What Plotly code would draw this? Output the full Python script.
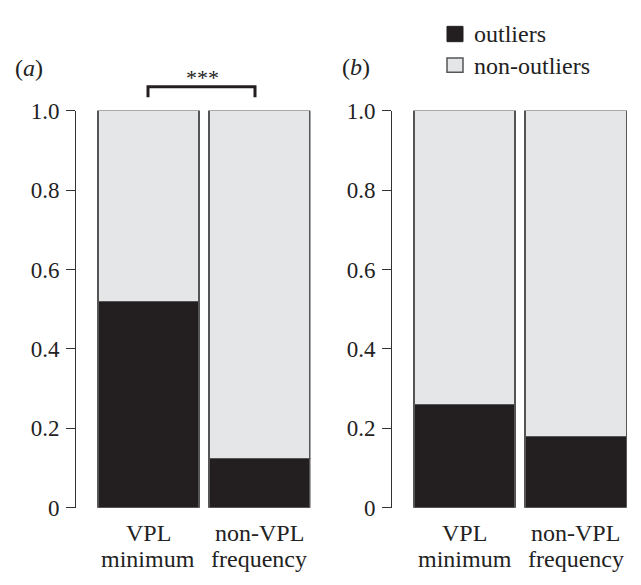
import plotly.graph_objects as go

cat_line1 = ["VPL", "non-VPL"]
cat_line2 = ["minimum", "frequency"]
outliers_a = [0.52, 0.124]
outliers_b = [0.26, 0.18]
non_outliers_a = [1 - v for v in outliers_a]
non_outliers_b = [1 - v for v in outliers_b]
y_ticks = [0, 0.2, 0.4, 0.6, 0.8, 1.0]
y_tick_text = ["0", "0.2", "0.4", "0.6", "0.8", "1.0"]
panel_labels = ["(<i>a</i>)", "(<i>b</i>)"]
legend_names = ["outliers", "non-outliers"]
signif = "***"

BLACK = "#231f20"
GREY = "#e5e6e8"
EDGE = "#555555"
FONT = "Liberation Serif, Times New Roman, serif"
FS = 24
TFS = 23
TXT = "#222222"

W, H = 641, 585
def px(x):
    return x / W
def py(y):
    return (H - y) / H

fig = go.Figure()
xs = [0, 1]
for i, (out, non) in enumerate([(outliers_a, non_outliers_a), (outliers_b, non_outliers_b)]):
    xa = "x" if i == 0 else "x2"
    ya = "y" if i == 0 else "y2"
    fig.add_trace(go.Bar(x=xs, y=out, width=0.91, marker=dict(color=BLACK, line=dict(color=EDGE, width=1.5)),
                         name=legend_names[0], showlegend=False, xaxis=xa, yaxis=ya))
    fig.add_trace(go.Bar(x=xs, y=non, width=0.91, marker=dict(color=GREY, line=dict(color=EDGE, width=1.5)),
                         name=legend_names[1], showlegend=False, xaxis=xa, yaxis=ya))

ydom = [py(518), py(103)]
common_y = dict(range=[0, 1], tickvals=y_ticks, ticktext=y_tick_text, showline=True, linecolor="#333",
                linewidth=1, ticks="outside", ticklen=9, tickcolor="#333", showgrid=False, zeroline=False,
                tickfont=dict(family=FONT, size=TFS, color=TXT), domain=ydom, fixedrange=True,
                ticklabelstandoff=2)
common_x = dict(range=[-0.653, 1.46], tickvals=xs, showticklabels=False, showline=False, ticks="",
                showgrid=False, zeroline=False, fixedrange=True)

fig.update_layout(
    barmode="stack",
    width=W, height=H,
    margin=dict(l=0, r=0, t=0, b=0),
    paper_bgcolor="white", plot_bgcolor="white",
    xaxis=dict(domain=[px(76), px(310.5)], anchor="y", **common_x),
    yaxis=dict(anchor="x", **common_y),
    xaxis2=dict(domain=[px(392), px(627)], anchor="y2", **common_x),
    yaxis2=dict(anchor="x2", **common_y),
    showlegend=False,
)

def ann(text, x, y, xref="paper", xanchor="center", size=FS):
    return dict(text=text, x=x, y=y, xref=xref, yref="paper", showarrow=False,
                xanchor=xanchor, yanchor="middle", font=dict(family=FONT, size=size, color=TXT))

annotations = [
    ann(panel_labels[0], px(29), py(58)),
    ann(panel_labels[1], px(356), py(57)),
    ann(signif, px(202), py(68), size=22),
    ann(legend_names[0], px(472), py(23), xanchor="left"),
    ann(legend_names[1], px(472), py(56), xanchor="left"),
]
for xref in ["x", "x2"]:
    for i, xv in enumerate(xs):
        annotations.append(ann(cat_line1[i], xv, py(544), xref=xref))
        annotations.append(ann(cat_line2[i], xv, py(571), xref=xref))
fig.update_layout(annotations=annotations)

shapes = [
    dict(type="rect", xref="paper", yref="paper", x0=px(447), x1=px(463), y0=py(31), y1=py(15),
         fillcolor=BLACK, line=dict(color=BLACK, width=1)),
    dict(type="rect", xref="paper", yref="paper", x0=px(447), x1=px(463), y0=py(63), y1=py(48),
         fillcolor=GREY, line=dict(color=EDGE, width=1.5)),
    dict(type="path", xref="paper", yref="paper",
         path=f"M{px(148)},{py(89)} L{px(148)},{py(78)} L{px(255)},{py(78)} L{px(255)},{py(89)}",
         line=dict(color=BLACK, width=3)),
]
fig.update_layout(shapes=shapes)

fig.write_html("out.html", config={"displayModeBar": False},
               post_script="document.body.style.margin='0';document.body.style.overflow='hidden';")
